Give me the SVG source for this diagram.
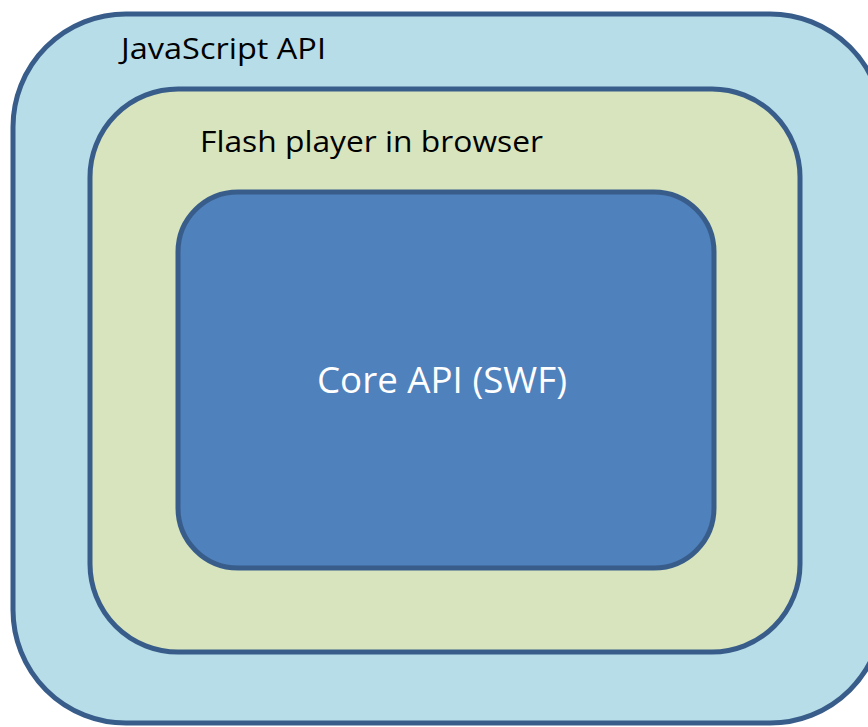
<svg xmlns="http://www.w3.org/2000/svg" width="868" height="727" viewBox="0 0 868 727">
<style>
.box{stroke:#385d8a;stroke-width:5}
.lbl{font-family:"Open Sans","Liberation Sans",sans-serif}
</style>
<rect width="868" height="727" fill="#ffffff"/>
<g id="javascript-api">
<rect class="box" x="13" y="14" width="870" height="709" rx="113" ry="113" fill="#b7dde8"/>
<text class="lbl" x="121" y="59" font-size="29" fill="#000000" textLength="205" lengthAdjust="spacingAndGlyphs">JavaScript API</text>
</g>
<g id="flash-player">
<rect class="box" x="90" y="89" width="710" height="563" rx="88" ry="88" fill="#d7e4bd"/>
<text class="lbl" x="200" y="152" font-size="29" fill="#000000" textLength="343" lengthAdjust="spacingAndGlyphs">Flash player in browser</text>
</g>
<g id="core-api">
<rect class="box" x="178" y="192" width="536" height="376" rx="60" ry="60" fill="#4f81bd"/>
<text class="lbl" x="317" y="393" font-size="36" fill="#ffffff" textLength="250" lengthAdjust="spacingAndGlyphs">Core API (SWF)</text>
</g>
<g id="connectors"></g>
</svg>
